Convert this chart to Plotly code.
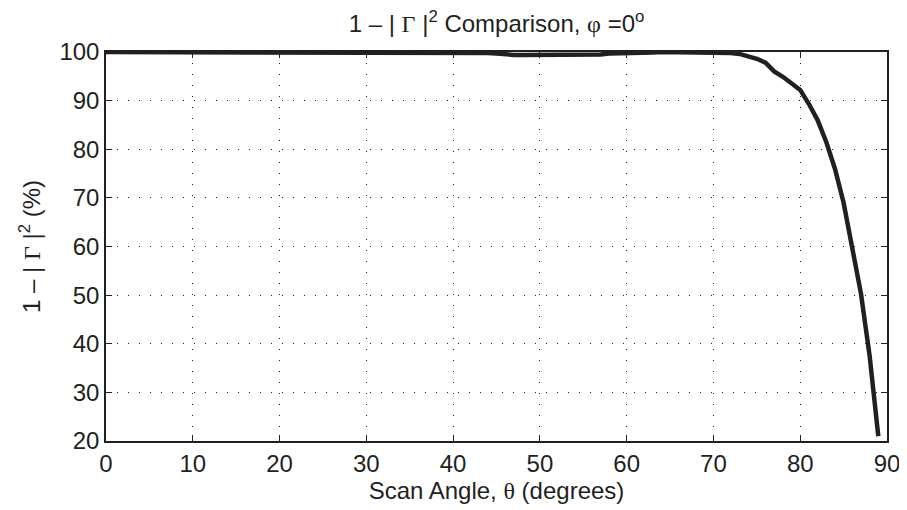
import plotly.graph_objects as go

theta = list(range(0, 90))
values_flat = [100.0] * 39
values_tail = [99.8, 99.8, 99.8, 99.8, 99.8, 99.8, 99.7, 99.5,          # 39-46
               99.4, 99.4, 99.4, 99.4, 99.4, 99.4, 99.4, 99.4, 99.4, 99.4, 99.5,  # 47-57
               99.7, 99.7, 99.7, 99.7, 99.8, 99.9,                      # 58-63
               100.0, 100.0, 100.0, 100.0, 100.0, 100.0,                # 64-69
               100.0, 99.9, 99.8, 99.6, 99.2, 98.6, 97.8, 96.0, 94.9, 93.5,  # 70-79
               92.2, 89.3, 86.0, 81.5, 76.0, 69.0, 60.0, 50.3, 37.5, 21.0]   # 80-89
values = values_flat + values_tail

xticks = list(range(0, 91, 10))
yticks = list(range(20, 101, 10))

fig = go.Figure()
fig.add_trace(go.Scatter(x=theta, y=values, mode="lines",
                         line=dict(color="#231f20", width=4.5),
                         showlegend=False, hoverinfo="skip"))

font = dict(family="Liberation Sans, Arial, Helvetica, sans-serif", size=24, color="#231f20")
serif = "font-family:'Liberation Serif','Times New Roman',serif"

axis_common = dict(showline=True, linecolor="#231f20", linewidth=1.5, mirror="ticks",
                   ticks="inside", ticklen=6, tickcolor="#231f20", tickwidth=1,
                   showgrid=True, gridcolor="#231f20", gridwidth=1,
                   griddash="1px,10px", zeroline=False, tickfont=font,
                   automargin=False)

fig.update_layout(
    width=907, height=510,
    margin=dict(l=98, r=28, t=44, b=77, autoexpand=False),
    paper_bgcolor="white", plot_bgcolor="white",
    font=font,
    title=dict(text=f"1 – | <span style=\"{serif}\">Γ</span> |<sup>2</sup> Comparison, <span style=\"{serif}\">φ</span> =0<sup>o</sup>",
               x=0.5, xref="paper", xanchor="center", y=1 - 16 / 510, yanchor="middle",
               font=dict(size=24), automargin=False),
    xaxis=dict(range=[0, 90], tickvals=xticks, ticktext=[str(v) for v in xticks],
               title=dict(text=f"Scan Angle, <span style=\"{serif}\">θ</span> (degrees)", standoff=2,
                          font=dict(size=24)),
               **axis_common),
    yaxis=dict(range=[20, 100], tickvals=yticks, ticktext=[str(v) for v in yticks],
               title=dict(text=f"1 – | <span style=\"{serif}\">Γ</span> |<sup>2</sup> (%)", standoff=12,
                          font=dict(size=24)),
               **axis_common),
)

fig.write_html("out.html")
